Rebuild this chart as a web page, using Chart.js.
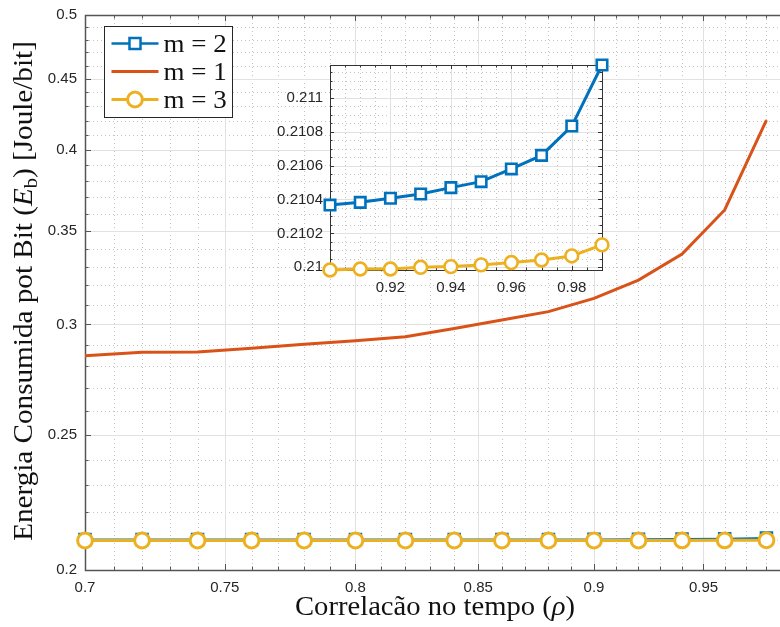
<!DOCTYPE html>
<html lang="pt">
<head>
<meta charset="utf-8">
<title>Energia consumida por bit</title>
<script src="https://cdn.jsdelivr.net/npm/chart.js@4.4.1/dist/chart.umd.min.js"></script>
<style>
  html, body { margin: 0; padding: 0; background: #fff; overflow: hidden; }
  #wrap { position: relative; width: 780px; height: 627px; overflow: hidden; }
  #wrap canvas { position: absolute; }
  #main { left: 0; top: 0; }
  #inset { left: 250px; top: 55px; }
</style>
</head>
<body>
<div id="wrap">
  <canvas id="main" width="800" height="627"></canvas>
  <canvas id="inset" width="370" height="250"></canvas>
</div>
<script>
/* ---- data ------------------------------------------------------------ */
// correlation in time (rho), main axes
const RHO  = [0.70, 0.72, 0.74, 0.76, 0.78, 0.80, 0.82, 0.84, 0.86, 0.88, 0.90, 0.92, 0.94, 0.96, 0.98];
// energy per bit [J/bit]
const E_M2 = [0.21030, 0.21030, 0.21031, 0.21031, 0.21032, 0.21032, 0.21033, 0.21034, 0.21035, 0.21036,
              0.210367, 0.210407, 0.21047, 0.21058, 0.210833];
const E_M1 = [0.2849, 0.2865, 0.2866, 0.2884, 0.2903, 0.2920, 0.2940, 0.2980, 0.3022, 0.3064,
              0.3132, 0.3228, 0.3370, 0.3624, 0.4204];
const E_M3 = [0.20998, 0.20998, 0.20998, 0.20998, 0.20998, 0.20998, 0.20998, 0.20998, 0.20998, 0.20998,
              0.209984, 0.20999, 0.210004, 0.210028, 0.210067];

// zoomed view, rho 0.90 .. 0.99
const RHO_ZOOM = [0.90, 0.91, 0.92, 0.93, 0.94, 0.95, 0.96, 0.97, 0.98, 0.99];
const ZOOM_M2  = [0.210367, 0.210383, 0.210407, 0.210432, 0.210470, 0.210505, 0.210580, 0.210660, 0.210833, 0.211193];
const ZOOM_M3  = [0.209984, 0.209990, 0.209990, 0.210000, 0.210004, 0.210014, 0.210028, 0.210043, 0.210067, 0.210132];

// tick values / labels
const X_TICKS   = [0.7, 0.75, 0.8, 0.85, 0.9, 0.95];
const X_LABELS  = ['0.7', '0.75', '0.8', '0.85', '0.9', '0.95'];
const Y_TICKS   = [0.2, 0.25, 0.3, 0.35, 0.4, 0.45, 0.5];
const Y_LABELS  = ['0.2', '0.25', '0.3', '0.35', '0.4', '0.45', '0.5'];
const ZX_TICKS  = [0.92, 0.94, 0.96, 0.98];
const ZX_LABELS = ['0.92', '0.94', '0.96', '0.98'];
const ZY_TICKS  = [0.21, 0.2102, 0.2104, 0.2106, 0.2108, 0.211];
const ZY_LABELS = ['0.21', '0.2102', '0.2104', '0.2106', '0.2108', '0.211'];

/* ---- style ----------------------------------------------------------- */
const BLUE = '#0072BD', RED = '#D95319', YELLOW = '#EDB120';
const TEXT = '#262626';
const TICK_FONT = { family: "'Liberation Sans', Arial, sans-serif", size: 15 };
const SERIF = "'Liberation Serif', 'Times New Roman', serif";
const SX = 1.08;   // serif text is stretched a little horizontally

// minor tick positions between the labelled ones
function steps(from, to, step, skip) {
  const out = [];
  const n = Math.round((to - from) / step);
  for (let i = 0; i <= n; i++) {
    const v = +(from + i * step).toFixed(6);
    if (!skip.some(s => Math.abs(s - v) < step / 10)) out.push(v);
  }
  return out;
}

const crisp = p => Math.round(p) + 0.5;

// fixed axis sizes; label overhang must not shrink the plot box
const fixX = h => s => { s.height = h; s.paddingLeft = 0; s.paddingRight = 0; };
const fixY = w => s => { s.width = w; s.paddingTop = 0; s.paddingBottom = 0; };

// grid + box + inward ticks, drawn under the data
function axesPlugin(cfg) {
  return {
    id: 'matlabAxes',
    beforeDatasetsDraw(chart) {
      const { ctx, chartArea: a, scales: { x, y } } = chart;
      const inX = v => v >= x.min - 1e-9 && v <= x.max + 1e-9;
      const inY = v => v >= y.min - 1e-9 && v <= y.max + 1e-9;
      const xMaj = cfg.xMajor.filter(inX), xMin = cfg.xMinor.filter(inX);
      const yMaj = cfg.yMajor.filter(inY), yMin = cfg.yMinor.filter(inY);
      ctx.save();
      if (cfg.fill) {
        ctx.fillStyle = cfg.fill;
        ctx.fillRect(a.left, a.top, a.right - a.left, a.bottom - a.top);
      }
      ctx.lineWidth = 1;

      ctx.strokeStyle = '#c4c4c4';
      ctx.setLineDash([1, 3]);
      ctx.beginPath();
      xMin.forEach(v => { const p = crisp(x.getPixelForValue(v)); ctx.moveTo(p, a.top); ctx.lineTo(p, a.bottom); });
      yMin.forEach(v => { const p = crisp(y.getPixelForValue(v)); ctx.moveTo(a.left, p); ctx.lineTo(a.right, p); });
      ctx.stroke();

      ctx.setLineDash([]);
      ctx.strokeStyle = '#e1e1e1';
      ctx.beginPath();
      xMaj.forEach(v => { const p = crisp(x.getPixelForValue(v)); ctx.moveTo(p, a.top); ctx.lineTo(p, a.bottom); });
      yMaj.forEach(v => { const p = crisp(y.getPixelForValue(v)); ctx.moveTo(a.left, p); ctx.lineTo(a.right, p); });
      ctx.stroke();

      ctx.strokeStyle = cfg.axisColor;
      ctx.beginPath();
      const tx = (v, len) => {
        const p = crisp(x.getPixelForValue(v));
        ctx.moveTo(p, a.bottom); ctx.lineTo(p, a.bottom - len);
        ctx.moveTo(p, a.top); ctx.lineTo(p, a.top + len);
      };
      const ty = (v, len) => {
        const p = crisp(y.getPixelForValue(v));
        ctx.moveTo(a.left, p); ctx.lineTo(a.left + len, p);
        ctx.moveTo(a.right, p); ctx.lineTo(a.right - len, p);
      };
      xMaj.forEach(v => tx(v, cfg.tickMajor)); xMin.forEach(v => tx(v, cfg.tickMinor));
      yMaj.forEach(v => ty(v, cfg.tickMajor)); yMin.forEach(v => ty(v, cfg.tickMinor));
      ctx.stroke();

      ctx.lineWidth = cfg.axisWidth;
      ctx.strokeRect(Math.round(a.left) + 0.5, Math.round(a.top) + 0.5,
                     Math.round(a.right - a.left), Math.round(a.bottom - a.top));
      ctx.restore();
    }
  };
}

// mixed-font text run (italic symbols, subscripts)
function drawRich(ctx, parts, x, y, align) {
  let total = 0;
  parts.forEach(p => { ctx.font = p.font; p.w = ctx.measureText(p.text).width; total += p.w; });
  ctx.save();
  ctx.translate(x, y);
  ctx.scale(SX, 1);
  ctx.textBaseline = 'alphabetic';
  ctx.textAlign = 'left';
  let cx = align === 'center' ? -total / 2 : 0;
  parts.forEach(p => { ctx.font = p.font; ctx.fillText(p.text, cx, p.dy || 0); cx += p.w; });
  ctx.restore();
}

const titles = {
  id: 'axisTitles',
  afterDraw(chart) {
    const { ctx } = chart;
    ctx.save();
    ctx.fillStyle = '#111';
    drawRich(ctx, [
      { text: 'Correlacão no tempo (', font: `26.5px ${SERIF}` },
      { text: 'ρ', font: `italic 26.5px ${SERIF}` },
      { text: ')', font: `26.5px ${SERIF}` }
    ], 435, 615, 'center');

    ctx.translate(32, 291);
    ctx.rotate(-Math.PI / 2);
    drawRich(ctx, [
      { text: 'Energia Consumida pot Bit (', font: `27px ${SERIF}` },
      { text: 'E', font: `italic 27px ${SERIF}` },
      { text: 'b', font: `19px ${SERIF}`, dy: 5 },
      { text: ') [Joule/bit]', font: `27px ${SERIF}` }
    ], 0, 0, 'center');
    ctx.restore();
  }
};

const legendBox = {
  id: 'legendBox',
  afterDraw(chart) {
    const { ctx } = chart;
    const L = 104.5, T = 26.5, W = 128, H = 91;
    ctx.save();
    ctx.fillStyle = '#fff';
    ctx.fillRect(L, T, W, H);
    ctx.strokeStyle = '#262626';
    ctx.lineWidth = 1;
    ctx.strokeRect(L, T, W, H);
    chart.data.datasets.forEach((ds, i) => {
      const cy = T + 17 + i * 28;
      ctx.strokeStyle = ds.borderColor;
      ctx.lineWidth = Math.max(ds.borderWidth, 2.5);
      ctx.beginPath();
      ctx.moveTo(L + 7, cy);
      ctx.lineTo(L + 54, cy);
      ctx.stroke();
      if (ds.pointRadius > 0) {
        ctx.fillStyle = ds.pointBackgroundColor;
        ctx.strokeStyle = ds.pointBorderColor;
        ctx.lineWidth = ds.pointBorderWidth;
        Chart.helpers.drawPoint(ctx, {
          pointStyle: ds.pointStyle, rotation: 0,
          radius: ds.pointRadius, borderWidth: ds.pointBorderWidth
        }, L + 30.5, cy);
      }
      ctx.fillStyle = '#111';
      drawRich(ctx, [{ text: ds.label, font: `25px ${SERIF}` }], L + 59, cy + 8, 'left');
    });
    ctx.restore();
  }
};

const pts = (xs, ys) => xs.map((x, i) => ({ x, y: ys[i] }));

/* ---- main axes (log-log) -------------------------------------------- */
new Chart(document.getElementById('main'), {
  type: 'line',
  data: {
    datasets: [
      { label: 'm = 2', data: pts(RHO, E_M2), borderColor: BLUE, borderWidth: 2,
        pointStyle: 'rect', pointRadius: 7.8, pointBorderWidth: 2.5,
        pointBackgroundColor: '#fff', pointBorderColor: BLUE, order: 2, clip: false },
      { label: 'm = 1', data: pts(RHO, E_M1), borderColor: RED, borderWidth: 3,
        pointRadius: 0, order: 1, clip: false },
      { label: 'm = 3', data: pts(RHO, E_M3), borderColor: YELLOW, borderWidth: 3,
        pointStyle: 'circle', pointRadius: 7.4, pointBorderWidth: 3,
        pointBackgroundColor: '#fff', pointBorderColor: YELLOW, order: 0, clip: false }
    ]
  },
  options: {
    responsive: false,
    animation: false,
    events: [],
    layout: { padding: { top: 15, right: 13, left: 0, bottom: 0 } },
    elements: { line: { tension: 0 } },
    plugins: { legend: { display: false }, tooltip: { enabled: false } },
    scales: {
      x: {
        type: 'logarithmic', min: 0.7, max: 0.99, bounds: 'data',
        afterBuildTicks: s => { s.ticks = X_TICKS.map(v => ({ value: v })); },
        afterFit: fixX(57),
        grid: { display: false, drawTicks: false },
        border: { display: false },
        ticks: { callback: (v, i) => X_LABELS[i], font: TICK_FONT, color: TEXT,
                 padding: 9, maxRotation: 0, autoSkip: false }
      },
      y: {
        type: 'logarithmic', min: 0.2, max: 0.5, bounds: 'data',
        afterBuildTicks: s => { s.ticks = Y_TICKS.map(v => ({ value: v })); },
        afterFit: fixY(85),
        grid: { display: false, drawTicks: false },
        border: { display: false },
        ticks: { callback: (v, i) => Y_LABELS[i], font: TICK_FONT, color: TEXT,
                 padding: 8, autoSkip: false }
      }
    }
  },
  plugins: [
    axesPlugin({
      xMajor: X_TICKS, xMinor: steps(0.70, 0.99, 0.01, X_TICKS),
      yMajor: Y_TICKS, yMinor: steps(0.20, 0.50, 0.01, Y_TICKS),
      axisColor: '#555', axisWidth: 1.5, tickMajor: 6, tickMinor: 3.5
    }),
    titles, legendBox
  ]
});

/* ---- inset, rho 0.90 .. 0.99 ----------------------------------------- */
new Chart(document.getElementById('inset'), {
  type: 'line',
  data: {
    datasets: [
      { label: 'm = 2', data: pts(RHO_ZOOM, ZOOM_M2), borderColor: BLUE, borderWidth: 3,
        pointStyle: 'rect', pointRadius: 7.4, pointBorderWidth: 2.6,
        pointBackgroundColor: '#fff', pointBorderColor: BLUE, clip: false },
      { label: 'm = 3', data: pts(RHO_ZOOM, ZOOM_M3), borderColor: YELLOW, borderWidth: 3,
        pointStyle: 'circle', pointRadius: 6.4, pointBorderWidth: 2.6,
        pointBackgroundColor: '#fff', pointBorderColor: YELLOW, clip: false }
    ]
  },
  options: {
    responsive: false,
    animation: false,
    events: [],
    layout: { padding: { top: 10, right: 18, left: 0, bottom: 0 } },
    elements: { line: { tension: 0 } },
    plugins: { legend: { display: false }, tooltip: { enabled: false } },
    scales: {
      x: {
        type: 'linear', min: 0.90, max: 0.99, bounds: 'data',
        afterBuildTicks: s => { s.ticks = ZX_TICKS.map(v => ({ value: v })); },
        afterFit: fixX(35),
        grid: { display: false, drawTicks: false },
        border: { display: false },
        ticks: { callback: (v, i) => ZX_LABELS[i], font: TICK_FONT, color: TEXT,
                 padding: 9, maxRotation: 0, autoSkip: false }
      },
      y: {
        type: 'linear', min: Math.min(...ZOOM_M3), max: Math.max(...ZOOM_M2), bounds: 'data',
        afterBuildTicks: s => { s.ticks = ZY_TICKS.map(v => ({ value: v })); },
        afterFit: fixY(80),
        grid: { display: false, drawTicks: false },
        border: { display: false },
        ticks: { callback: (v, i) => ZY_LABELS[i], font: TICK_FONT, color: TEXT,
                 padding: 7, autoSkip: false }
      }
    }
  },
  plugins: [
    axesPlugin({
      fill: '#fff',
      xMajor: ZX_TICKS, xMinor: steps(0.90, 0.99, 0.005, ZX_TICKS.concat([0.90, 0.99])),
      yMajor: ZY_TICKS, yMinor: steps(0.21, 0.2115, 0.00005, ZY_TICKS),
      axisColor: '#333', axisWidth: 1, tickMajor: 4, tickMinor: 2.5
    })
  ]
});
</script>
</body>
</html>
